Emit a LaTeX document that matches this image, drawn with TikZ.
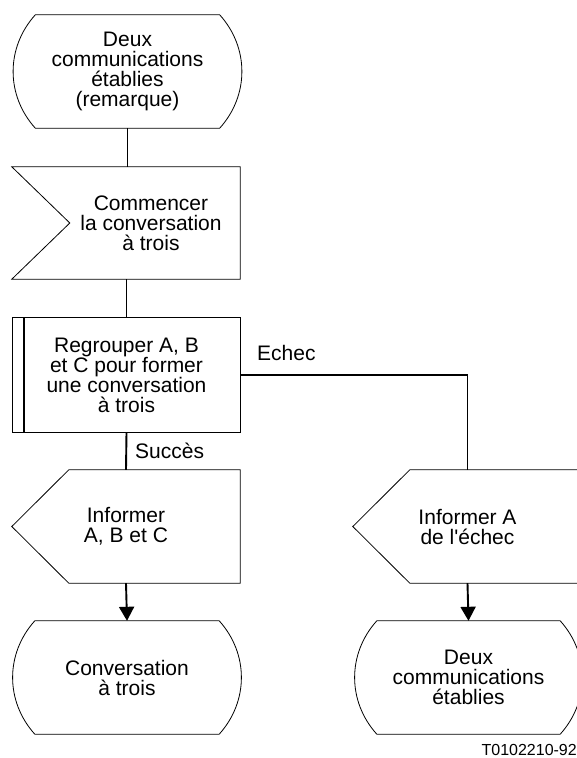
\documentclass[tikz,border=0pt]{standalone}
\usepackage{fontspec}
\setmainfont{Liberation Sans}
\usetikzlibrary{arrows.meta}

\begin{document}
\begin{tikzpicture}[x=1pt, y=-1pt,
    texte/.style={font=\fontsize{21}{20}\selectfont, align=center,
        inner sep=0pt},
    boite/.style={texte, minimum height=113pt},
    contour/.style={line width=0.8pt},
    lien/.style={line width=1.9pt},
    fleche/.style={lien, -{Triangle[length=14pt,width=15pt]}},
    lab/.style={font=\fontsize{21}{20}\selectfont, inner sep=0pt}]

    \useasboundingbox (0,0) rectangle (577,758);

    % les blocs
    \node[boite, minimum width=228pt] (debut) at (127.5,71.5)
        {Deux\\communications\\établies\\(remarque)};
    \node[boite, minimum width=178pt, minimum height=112pt] (commencer) at (151,223)
        {Commencer\\la conversation\\à trois};
    \node[boite, minimum width=227pt, minimum height=114pt] (regrouper) at (126.5,375)
        {Regrouper A, B\\et C pour former\\une conversation\\à trois};
    \node[boite, minimum width=228pt] (informer) at (126,526.5)
        {Informer\\A, B et C};
    \node[boite, minimum width=229pt] (informerA) at (467.5,526.5)
        {Informer A\\de l\textquotesingle échec};
    \node[boite, minimum width=228pt] (conversation) at (127,677.5)
        {Conversation\\à trois};
    \node[boite, minimum width=227pt] (deux) at (468.5,677.5)
        {Deux\\communications\\établies};

    % contours
    \draw[contour] ([xshift=22pt]debut.north west) -- ([xshift=-22pt]debut.north east)
        to[bend left=42] ([xshift=-22pt]debut.south east) -- ([xshift=22pt]debut.south west)
        to[bend left=42] ([xshift=22pt]debut.north west) -- cycle;
    \draw[contour] (commencer.north east) -- (commencer.south east)
        -- ([xshift=-50pt]commencer.south west) -- ([xshift=8pt]commencer.west)
        -- ([xshift=-50pt]commencer.north west) -- cycle;
    \draw[contour] (regrouper.north west) rectangle (regrouper.south east);
    \draw[line width=1.5pt] ([xshift=11pt]regrouper.north west) -- ([xshift=11pt]regrouper.south west);
    \draw[contour] ([xshift=57pt]informer.north west) -- (informer.north east)
        -- (informer.south east) -- ([xshift=57pt]informer.south west)
        -- (informer.west) -- cycle;
    \draw[contour] ([xshift=57pt]informerA.north west) -- (informerA.north east)
        -- (informerA.south east) -- ([xshift=57pt]informerA.south west)
        -- (informerA.west) -- cycle;
    \draw[contour] ([xshift=22pt]conversation.north west) -- ([xshift=-22pt]conversation.north east)
        to[bend left=42] ([xshift=-22pt]conversation.south east) -- ([xshift=22pt]conversation.south west)
        to[bend left=42] ([xshift=22pt]conversation.north west) -- cycle;
    \draw[contour] ([xshift=22pt]deux.north west) -- ([xshift=-22pt]deux.north east)
        to[bend left=42] ([xshift=-22pt]deux.south east) -- ([xshift=22pt]deux.south west)
        to[bend left=42] ([xshift=22pt]deux.north west) -- cycle;

    % liaisons
    \draw[lien] (debut.south) -- (debut.south |- commencer.north);
    \draw[lien] (commencer.south -| regrouper.north) -- (regrouper.north);
    \draw[lien] (regrouper.south) -- (informer.north);
    \draw[fleche] (informer.south) -- (conversation.north);
    \draw[line width=1.1pt] (regrouper.east) -- (regrouper.east -| informerA.north)
        -- (informerA.north);
    \draw[fleche] (informerA.south) -- (deux.north);

    \node[lab, anchor=base west] (echec) at (257,360) {Echec};
    \node[lab, anchor=base west] (succes) at (135,458) {Succès};
    \node[font=\fontsize{16}{16}\selectfont, inner sep=0pt, anchor=base east] (ref)
        at (577,755) {T0102210-92};

\end{tikzpicture}
\end{document}
